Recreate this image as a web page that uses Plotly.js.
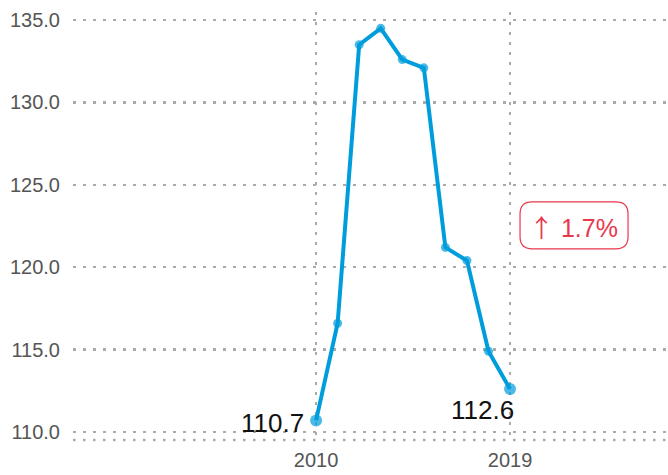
<!DOCTYPE html>
<html>
<head>
<meta charset="utf-8">
<script src="https://cdn.plot.ly/plotly-3.0.1.min.js"></script>
<style>html,body{margin:0;padding:0;background:#fff;}#chart{width:668px;height:475px;}</style>
</head>
<body>
<div id="chart"></div>
<script>
const years = [2010, 2011, 2012, 2013, 2014, 2015, 2016, 2017, 2018, 2019];
const values = [110.7, 116.6, 133.5, 134.5, 132.6, 132.1, 121.2, 120.4, 114.9, 112.6];
const yTicks = [110, 115, 120, 125, 130, 135];
const yTickText = ["110.0", "115.0", "120.0", "125.0", "130.0", "135.0"];
const xTicks = [2010, 2019];
const changeArrow = "↑";
const changeText = "1.7%";

const n = years.length;
const sizes = years.map((y, i) => (i === 0 || i === n - 1) ? 12 : 9);

const trace = {
  x: years, y: values, type: 'scatter', mode: 'lines+markers',
  line: {color: '#009ddc', width: 4},
  marker: {color: '#009ddc', size: sizes, line: {width: 0}},
  hoverinfo: 'skip', cliponaxis: false
};

const gridCol = '#aaaaaa';
const dotDash = '2.5px,7.5px';
const layout = {
  width: 668, height: 475,
  margin: {l: 73, r: 0, t: 12, b: 35},
  paper_bgcolor: '#fff', plot_bgcolor: '#fff',
  showlegend: false,
  font: {family: 'Liberation Sans, Arial, sans-serif', size: 20, color: '#555'},
  xaxis: {
    range: [1998.72, 2026.33], tickvals: xTicks, ticktext: xTicks.map(String),
    showgrid: true, gridcolor: gridCol, griddash: dotDash, gridwidth: 2.5,
    zeroline: false, showline: false,
    ticks: 'outside', ticklen: 2, tickcolor: 'rgba(0,0,0,0)',
    tickfont: {size: 20, color: '#555'}
  },
  yaxis: {
    range: [109.51, 135.49], tickvals: yTicks, ticktext: yTickText,
    showgrid: true, gridcolor: gridCol, griddash: dotDash, gridwidth: 2.5,
    zeroline: false, showline: false,
    ticks: 'outside', ticklen: 8, tickcolor: 'rgba(0,0,0,0)',
    tickfont: {size: 20, color: '#555'}
  },
  shapes: [
    {type: 'line', xref: 'paper', yref: 'paper', x0: 0, x1: 1, y0: 0, y1: 0,
     line: {color: gridCol, width: 2.5, dash: dotDash}, layer: 'below'},
    {type: 'path', xref: 'x', yref: 'y',
    xsizemode: 'pixel', ysizemode: 'pixel',
    xanchor: 2021.97, yanchor: 122.54,
    path: 'M -42 -23.5 L 42 -23.5 Q 54 -23.5 54 -11.5 L 54 11.5 Q 54 23.5 42 23.5 L -42 23.5 Q -54 23.5 -54 11.5 L -54 -11.5 Q -54 -23.5 -42 -23.5 Z',
    line: {color: '#e8394d', width: 1.2}, fillcolor: 'rgba(0,0,0,0)'}
  ],
  annotations: [
    {x: years[0], y: values[0], xref: 'x', yref: 'y', text: values[0].toFixed(1),
     showarrow: false, xanchor: 'right', yanchor: 'middle', xshift: -10, yshift: -3,
     font: {size: 26, color: '#111'}},
    {x: years[n-1], y: values[n-1], xref: 'x', yref: 'y', text: values[n-1].toFixed(1),
     showarrow: false, xanchor: 'center', yanchor: 'middle', xshift: -28, yshift: -21,
     font: {size: 26, color: '#111'}},
    {x: 2021.97, y: 122.54, xref: 'x', yref: 'y',
     text: '<span style="font-family:Noto Sans CJK SC">' + changeArrow + '</span> ' + changeText,
     showarrow: false, xanchor: 'center', yanchor: 'middle', xshift: -1, yshift: -1,
     font: {size: 25, color: '#e8394d'}}
  ]
};

Plotly.newPlot('chart', [trace], layout, {displayModeBar: false, staticPlot: true});
</script>
</body>
</html>
